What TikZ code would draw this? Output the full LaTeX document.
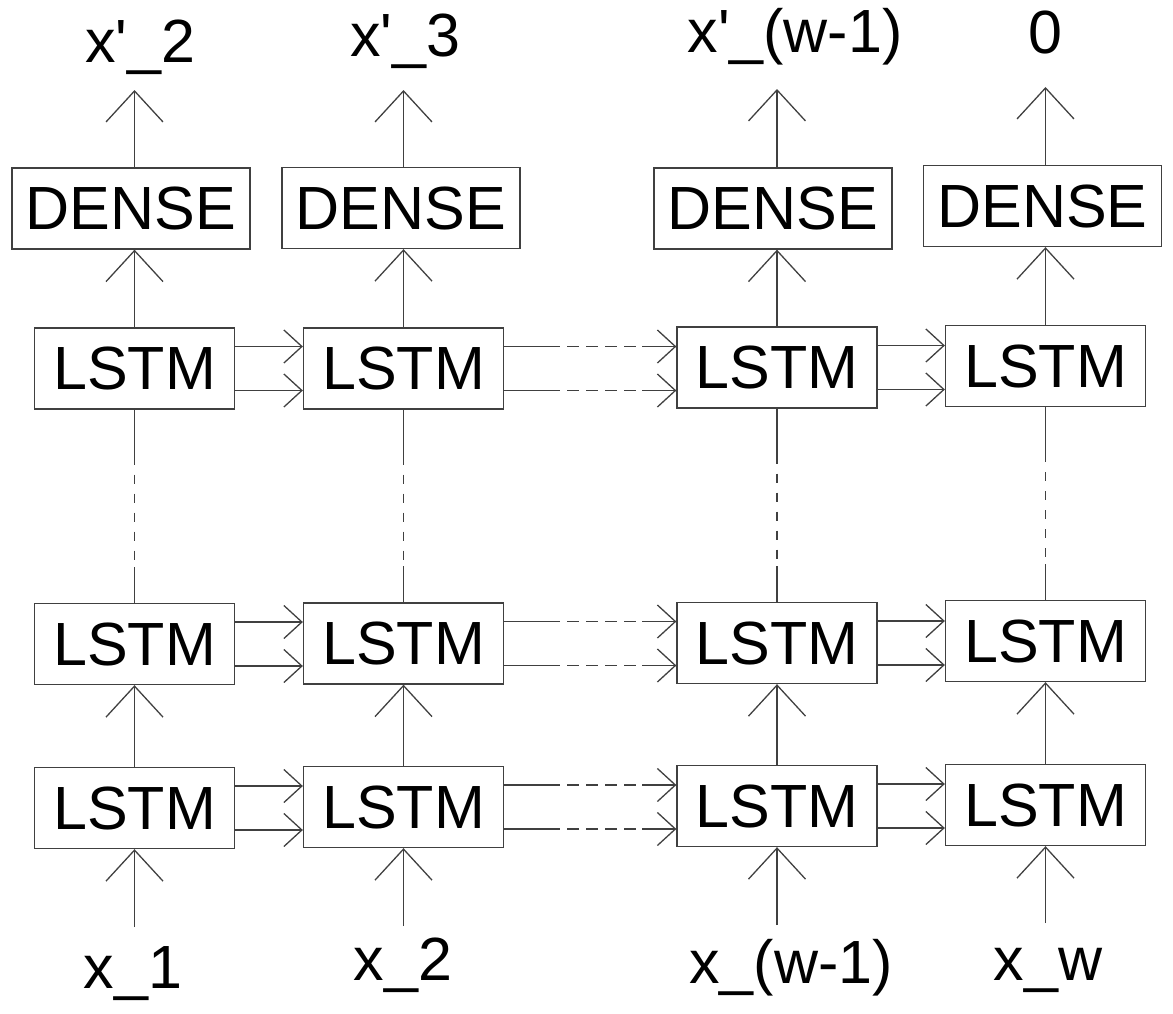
\documentclass[tikz,border=0pt]{standalone}
\usepackage{fontspec}
\newfontfamily\af{Liberation Sans}
\usetikzlibrary{arrows.meta,calc}
\begin{document}
\begin{tikzpicture}[x=1pt,y=-1pt,
  ln/.style={draw=black!75, line width=1.3pt},
  box/.style={ln, inner sep=0pt, font=\af\fontsize{61}{70}\selectfont},
  lstm/.style={box, minimum width=200pt, minimum height=81pt},
  dense/.style={box, minimum width=238pt, minimum height=81pt},
  lab/.style={font=\af\fontsize{61}{70}\selectfont, inner sep=0pt, anchor=base},
  va/.style={ln, -{Straight Barb[length=31pt,width=57pt]}},
  ha/.style={ln, -{Straight Barb[length=18pt,width=33pt]}},
  hd/.style={ln, dash pattern=on 12pt off 7pt},
  vd/.style={ln, dash pattern=on 9pt off 10pt}]
\useasboundingbox (0,0) rectangle (1173,1013);
% column 1
\node[dense] (D1) at (131,208.5) {DENSE};
\node[lstm] (A1) at (134.5,368.5) {LSTM};
\node[lstm] (B1) at (134.5,644) {LSTM};
\node[lstm] (C1) at (134.5,808) {LSTM};
% column 2
\node[dense] (D2) at (401,208) {DENSE};
\node[lstm] (A2) at (403.5,368.5) {LSTM};
\node[lstm] (B2) at (403.5,643.5) {LSTM};
\node[lstm] (C2) at (403.5,807) {LSTM};
% column 3
\node[dense] (D3) at (773,208.5) {DENSE};
\node[lstm] (A3) at (777,367.5) {LSTM};
\node[lstm] (B3) at (777,643) {LSTM};
\node[lstm] (C3) at (777,806) {LSTM};
% column 4
\node[dense] (D4) at (1042.5,206) {DENSE};
\node[lstm] (A4) at (1045.5,366) {LSTM};
\node[lstm] (B4) at (1045.5,641) {LSTM};
\node[lstm] (C4) at (1045.5,805) {LSTM};
% output labels
\node[lab] (O1) at (140,62) {x'\_2};
\node[lab] (O2) at (405,56) {x'\_3};
\node[lab] (O3) at (795,52) {x'\_(w-1)};
\node[lab] (O4) at (1045,53) {0};
% input labels
\node[lab] (I1) at (133,988) {x\_1};
\node[lab] (I2) at (403,980) {x\_2};
\node[lab] (I3) at (791,983) {x\_(w-1)};
\node[lab] (I4) at (1048,980) {x\_w};
% arrow end / start points
\coordinate (T1) at (134.5,90);
\coordinate (T2) at (403.5,90);
\coordinate (T3) at (777,89);
\coordinate (T4) at (1045.5,87);
\coordinate (S1) at (134.5,927);
\coordinate (S2) at (403.5,926);
\coordinate (S3) at (777,925);
\coordinate (S4) at (1045.5,923);
% vertical connectors
\foreach \k in {1,2,3,4}{
  \draw[va] (T\k |- D\k.north) -- (T\k);
  \draw[va] (A\k.north) -- (A\k.north |- D\k.south);
  \draw[ln] (A\k.south) -- ++(0,46) coordinate (p);
  \draw[ln] (B\k.north) -- ++(0,-36) coordinate (q);
  \draw[vd] (p) -- (q);
  \draw[va] (C\k.north) -- (B\k.south);
  \draw[va] (S\k) -- (C\k.south);
}
% horizontal connectors
\foreach \r in {A,B,C}{
  \foreach \s in {22,-22}{
    \draw[ha] ([yshift=\s pt]\r1.east) -- ([yshift=\s pt]\r1.east -| \r2.west);
    \draw[ha] ([yshift=\s pt]\r3.east) -- ([yshift=\s pt]\r3.east -| \r4.west);
    \draw[ln] ([yshift=\s pt]\r2.east) -- ++(44,0) coordinate (p);
    \coordinate (q) at ([yshift=\s pt]\r2.east -| \r3.west);
    \draw[hd] (p) -- ($(q)+(-34,0)$);
    \draw[ha] ($(q)+(-34,0)$) -- (q);
  }
}
\end{tikzpicture}
\end{document}
